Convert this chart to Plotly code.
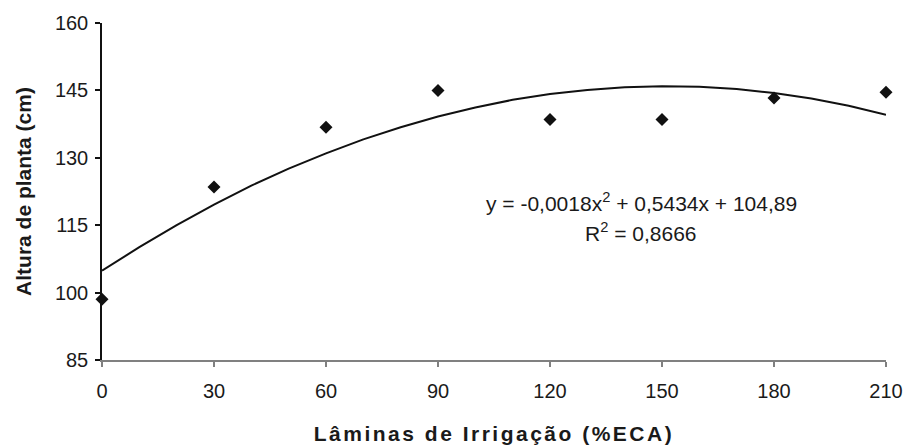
import plotly.graph_objects as go

laminas = [0, 30, 60, 90, 120, 150, 180, 210]
altura = [98.5, 123.5, 136.8, 145.0, 138.5, 138.5, 143.3, 144.6]

# Trend line points
trend_x = [0, 10, 20, 30, 40, 50, 60, 70, 80, 90, 100, 110, 120, 130, 140, 150, 160, 170, 180, 190, 200, 210]
trend_y = [104.9, 110.1, 115.0, 119.6, 123.8, 127.6, 131.0, 134.1, 136.8, 139.2, 141.2, 142.9, 144.2, 145.1, 145.7, 145.9, 145.8, 145.3, 144.4, 143.2, 141.6, 139.6]

x_ticks = [0, 30, 60, 90, 120, 150, 180, 210]
y_ticks = [85, 100, 115, 130, 145, 160]

equation_text = "y = -0,0018x<sup>2</sup> + 0,5434x + 104,89"
r2_text = "R<sup>2</sup> = 0,8666"

FONT = "Liberation Sans, Arial, sans-serif"
TXT = "#1a1a1a"

fig = go.Figure()
fig.add_trace(go.Scatter(x=trend_x, y=trend_y, mode="lines",
                         line=dict(color="#111111", width=2), hoverinfo="skip",
                         showlegend=False))
fig.add_trace(go.Scatter(x=laminas, y=altura, mode="markers",
                         marker=dict(symbol="diamond", size=10, color="#111111"),
                         showlegend=False, cliponaxis=False))

fig.update_layout(
    width=906, height=445,
    margin=dict(l=102, r=20, t=23, b=85),
    plot_bgcolor="white", paper_bgcolor="white",
    font=dict(family=FONT, color=TXT),
    annotations=[
        dict(x=0.6875, y=0.468, xref="paper", yref="paper", text=equation_text,
             xanchor="center", yanchor="middle",
             showarrow=False, font=dict(family=FONT, size=21, color=TXT)),
        dict(x=0.6875, y=0.379, xref="paper", yref="paper", text=r2_text,
             xanchor="center", yanchor="middle",
             showarrow=False, font=dict(family=FONT, size=21, color=TXT)),
    ],
    xaxis=dict(range=[0, 210], tickvals=x_ticks, showgrid=False, zeroline=False,
               automargin=False,
               showline=True, linecolor="#808080", linewidth=1.5,
               ticks="outside", ticklen=5, tickcolor="#808080", tickwidth=1.5,
               ticklabelstandoff=7,
               tickfont=dict(size=20, color=TXT),
               title=dict(text="<b>Lâminas de Irrigação (%ECA)</b>",
                          font=dict(size=21, color=TXT), standoff=27)),
    yaxis=dict(range=[85, 160], tickvals=y_ticks, showgrid=False, zeroline=False,
               automargin=False,
               showline=True, linecolor="#111111", linewidth=1.5,
               ticks="outside", ticklen=5, tickcolor="#111111", tickwidth=1.5,
               ticklabelstandoff=3,
               tickfont=dict(size=20, color=TXT),
               title=dict(text="<b>Altura de planta (cm)</b>",
                          font=dict(size=21, color=TXT), standoff=18)),
)

post = """
document.body.style.margin = '0';
var t = document.querySelector('.xtitle');
if (t) { t.style.letterSpacing = '2.5px'; }
"""

fig.write_html("out.html", post_script=post, config={"displayModeBar": False})
